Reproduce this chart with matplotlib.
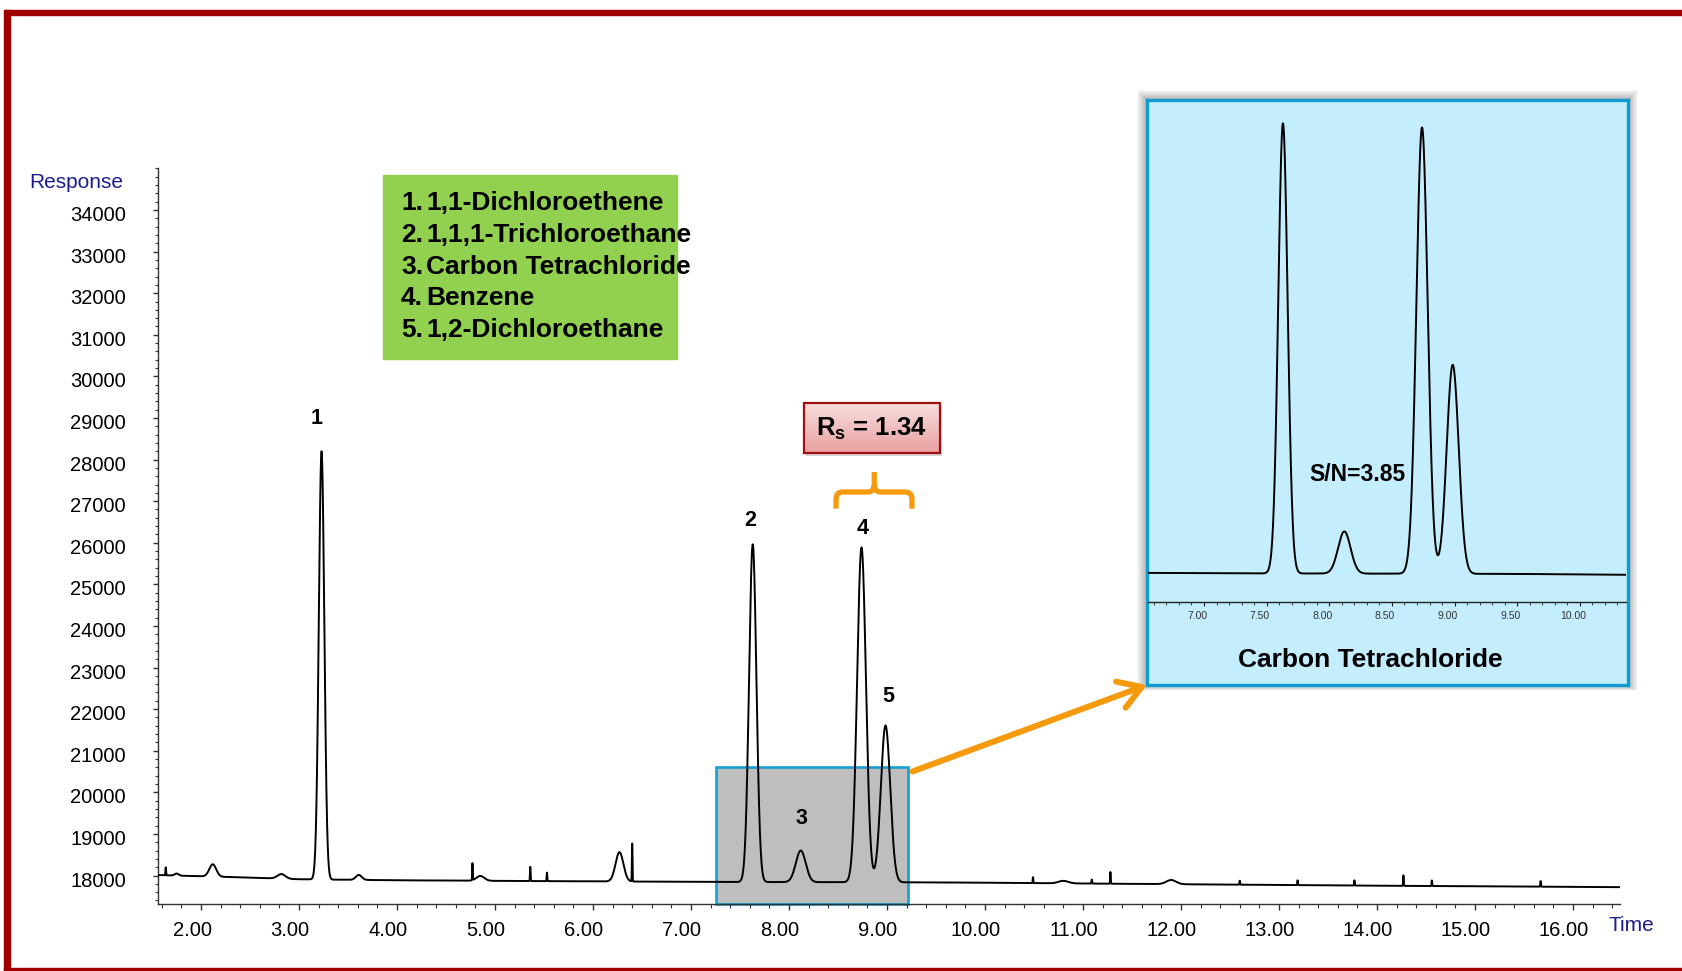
import numpy as np
import matplotlib.pyplot as plt
from matplotlib.patches import Rectangle, ConnectionPatch, PathPatch
from matplotlib.path import Path
from matplotlib.ticker import FixedLocator, MultipleLocator, FormatStrFormatter
from matplotlib.transforms import ScaledTranslation

plt.rcParams['font.family'] = ['Liberation Sans', 'DejaVu Sans']
plt.rcParams['mathtext.fontset'] = 'custom'
plt.rcParams['mathtext.bf'] = 'Liberation Sans:bold'
plt.rcParams['mathtext.rm'] = 'Liberation Sans'
plt.rcParams['mathtext.it'] = 'Liberation Sans:italic'

# --- data ---
compounds = ["1,1-Dichloroethene", "1,1,1-Trichloroethane", "Carbon Tetrachloride",
             "Benzene", "1,2-Dichloroethane"]
peak_rt = [3.23, 7.63, 8.12, 8.74, 8.985]          # min
peak_height = [10300, 8120, 760, 8050, 3770]       # above baseline
peak_sigma = [0.028, 0.0375, 0.05, 0.045, 0.048]
label_rt = [3.18, 7.60, 8.13, 8.75, 9.01]
label_resp = [28980, 26540, 19380, 26350, 22300]

minor_rt = [1.75, 2.12, 2.82, 3.61, 4.85, 6.27, 10.8, 11.9]
minor_height = [50, 296, 110, 120, 115, 705, 60, 100]
minor_sigma = [0.02, 0.035, 0.04, 0.03, 0.04, 0.04, 0.05, 0.05]

spike_rt = [1.64, 4.77, 5.36, 5.53, 6.40, 10.49, 11.09, 11.28, 12.60, 13.19, 13.77, 14.27, 14.56, 15.67]
spike_height = [200, 430, 360, 215, 960, 150, 100, 295, 100, 120, 130, 265, 140, 140]

base_rt = [1.56, 2.5, 3.0, 4.0, 5.5, 7.3, 9.5, 12.0, 14.0, 16.48]
base_resp = [18010, 17950, 17910, 17885, 17865, 17845, 17835, 17790, 17755, 17720]

rs_value = 1.34
sn_value = 3.85
zoom_window = (7.255, 9.214, 20608)

W, H = 1683, 971
ORANGE = '#F59A0C'
NAVY = '#1C1C8E'


def fx(x):
    return x / W


def fy(y):
    return 1 - y / H


# build trace
t = np.arange(1.561, 16.481, 0.002)
resp = np.interp(t, base_rt, base_resp)
for rt, h, s in zip(peak_rt, peak_height, peak_sigma):
    resp += h * np.exp(-0.5 * ((t - rt) / s) ** 2)
for rt, h, s in zip(minor_rt, minor_height, minor_sigma):
    resp += h * np.exp(-0.5 * ((t - rt) / s) ** 2)
for rt, h in zip(spike_rt, spike_height):
    resp += h * np.exp(-0.5 * ((t - rt) / 0.003) ** 2)

fig = plt.figure(figsize=(W / 100, H / 100), dpi=100)

# red slide frame
frame_c = '#A00000'
fig.patches.append(Rectangle((fx(5), fy(15)), 1 - fx(5), 5 / H, transform=fig.transFigure, color=frame_c))
fig.patches.append(Rectangle((fx(4), 0), 6 / W, fy(10), transform=fig.transFigure, color=frame_c))
fig.patches.append(Rectangle((fx(4), 0), 1, 3 / H, transform=fig.transFigure, color=frame_c))

# main axes
ax = fig.add_axes([fx(158), fy(904), (1620 - 158) / W, (904 - 168) / H])
ax.set_facecolor('none')
ax.plot(t, resp, color='black', lw=1.4, zorder=3)

x0, x1, ytop = zoom_window
ax.add_patch(Rectangle((x0, 17315), x1 - x0, ytop - 17315, fc='#BEBEBE', ec='#14A0D2',
                       lw=1.9, zorder=1, clip_on=False))

for i, (lx, ly) in enumerate(zip(label_rt, label_resp)):
    ax.text(lx, ly, str(i + 1), fontsize=15.5, fontweight='bold', ha='center', va='center', zorder=5)

# Rs box with gradient
rs_ext = [8.15, 9.54, 28163, 29351]
ax.add_patch(Rectangle((rs_ext[0] + 0.025, rs_ext[2] - 70), rs_ext[1] - rs_ext[0], rs_ext[3] - rs_ext[2],
                       fc='#888888', ec='none', alpha=0.35, zorder=4, clip_on=False))
grad = np.linspace(0, 1, 64).reshape(-1, 1)
c_top = np.array([248, 222, 222]) / 255
c_bot = np.array([233, 160, 160]) / 255
img = c_top[None, None, :] * (1 - grad[:, :, None]) + c_bot[None, None, :] * grad[:, :, None]
ax.imshow(img, extent=rs_ext, aspect='auto', zorder=5, clip_on=False, origin='upper')
ax.add_patch(Rectangle((rs_ext[0], rs_ext[2]), rs_ext[1] - rs_ext[0], rs_ext[3] - rs_ext[2],
                       fc='none', ec='#A01010', lw=1.6, zorder=6, clip_on=False))
ax.text((rs_ext[0] + rs_ext[1]) / 2, (rs_ext[2] + rs_ext[3]) / 2 - 30,
        r'$\mathbf{R_s}$' + f' = {rs_value:.2f}', fontsize=18.5, fontweight='bold',
        ha='center', va='center', zorder=7)

# orange brace over peaks 4/5
L, M, R = 8.48, 8.87, 9.255
y_arm, y_end, y_top = 27220, 26820, 27700
rx, ry = 0.07, 170
verts = [(L, y_end), (L, y_arm - ry), (L, y_arm), (L + rx, y_arm), (M - rx, y_arm), (M, y_arm),
         (M, y_arm + ry), (M, y_top),
         (M, y_arm + ry), (M, y_arm), (M + rx, y_arm), (R - rx, y_arm), (R, y_arm), (R, y_arm - ry),
         (R, y_end)]
codes = [Path.MOVETO, Path.LINETO, Path.CURVE3, Path.CURVE3, Path.LINETO, Path.CURVE3, Path.CURVE3,
         Path.LINETO,
         Path.MOVETO, Path.CURVE3, Path.CURVE3, Path.LINETO, Path.CURVE3, Path.CURVE3, Path.LINETO]
ax.add_patch(PathPatch(Path(verts, codes), fc='none', ec=ORANGE, lw=3.8, capstyle='butt',
                       zorder=5, clip_on=False))

ax.set_xlim(1.561, 16.48)
ax.set_ylim(17315, 35010)
for s in ['top', 'right']:
    ax.spines[s].set_visible(False)
for s in ['left', 'bottom']:
    ax.spines[s].set_color('#333333')
    ax.spines[s].set_linewidth(1.0)
ax.xaxis.set_major_locator(FixedLocator(np.arange(2, 17, 1.0)))
ax.xaxis.set_minor_locator(MultipleLocator(0.2))
ax.xaxis.set_major_formatter(FormatStrFormatter('%.2f'))
ax.yaxis.set_major_locator(FixedLocator(np.arange(18000, 34001, 1000)))
ax.yaxis.set_minor_locator(MultipleLocator(200))
ax.yaxis.set_major_formatter(FormatStrFormatter('%d'))
ax.tick_params(axis='x', which='major', direction='out', length=4.3, width=1, color='#333333',
               labelsize=14.5, pad=8)
ax.tick_params(axis='x', which='minor', direction='out', length=2.9, width=0.8, color='#333333')
ax.tick_params(axis='y', which='major', direction='out', length=3.6, width=1, color='#333333',
               labelsize=14.5, pad=19.5)
ax.tick_params(axis='y', which='minor', direction='out', length=2.2, width=0.8, color='#333333')
for tk in ax.xaxis.get_major_ticks():
    tk.label1.set_transform(tk.label1.get_transform() + ScaledTranslation(-0.09, 0, fig.dpi_scale_trans))
for tk in ax.yaxis.get_major_ticks():
    tk.label1.set_transform(tk.label1.get_transform() + ScaledTranslation(0, -0.035, fig.dpi_scale_trans))

fig.text(fx(123), fy(183), 'Response', color=NAVY, fontsize=15, ha='right', va='center')
fig.text(fx(1631), fy(925), 'Time', color=NAVY, fontsize=15, ha='center', va='center')

# compound legend box
fig.patches.append(Rectangle((fx(383), fy(359.3)), (677.3 - 383) / W, (359.3 - 175) / H,
                             transform=fig.transFigure, color='#92D050'))
for i, name in enumerate(compounds):
    yy = fy(203.3 + i * 31.7)
    fig.text(fx(401), yy, f'{i + 1}.', fontsize=19, fontweight='bold', va='center', ha='left')
    fig.text(fx(426), yy, name, fontsize=19, fontweight='bold', va='center', ha='left')

# inset box shadow
bx0, by0, bx1, by1 = 1147, 100, 1628, 685
for k in range(1, 11):
    fig.patches.append(Rectangle((fx(bx0 - k), fy(by1 + k * 0.6)), (bx1 - bx0 + 2 * k) / W,
                                 (by1 - by0 + 1.6 * k) / H, transform=fig.transFigure,
                                 fc='black', ec='none', alpha=0.03, zorder=1.5))

axbox = fig.add_axes([fx(bx0), fy(by1), (bx1 - bx0) / W, (by1 - by0) / H])
axbox.set_zorder(2)
axbox.set_facecolor('#C4EEFD')
axbox.set_xticks([])
axbox.set_yticks([])
for s in axbox.spines.values():
    s.set_color('#0E9CD0')
    s.set_linewidth(2.4)
axbox.text(0.465, 0.043, compounds[2], fontsize=19, fontweight='bold', ha='center', va='center',
           transform=axbox.transAxes)

axin = fig.add_axes([fx(1148), fy(602.3), (1626 - 1148) / W, (602.3 - 102) / H])
axin.set_zorder(3)
axin.set_facecolor('none')
axin.plot(t, resp, color='black', lw=1.4)
axin.set_xlim(6.553, 10.368)
axin.set_ylim(17323, 26347)
for s in ['top', 'right', 'left']:
    axin.spines[s].set_visible(False)
axin.spines['bottom'].set_color('#222222')
axin.spines['bottom'].set_linewidth(1.0)
axin.set_yticks([])
axin.xaxis.set_major_locator(FixedLocator(np.arange(7.0, 10.01, 0.5)))
axin.xaxis.set_minor_locator(MultipleLocator(0.1))
axin.xaxis.set_major_formatter(FormatStrFormatter('%.2f'))
axin.tick_params(axis='x', which='major', direction='out', length=3, width=0.8, color='#222222',
                 labelsize=7.5, labelcolor='#333333', pad=3.5)
axin.tick_params(axis='x', which='minor', direction='out', length=2, width=0.6, color='#222222')
for tk in axin.xaxis.get_major_ticks():
    tk.label1.set_transform(tk.label1.get_transform() + ScaledTranslation(-0.07, 0, fig.dpi_scale_trans))
axin.text(8.227, 19622, f'S/N={sn_value:.2f}', fontsize=16.5, fontweight='bold', ha='center', va='center')

# arrow from zoom window to inset
con = ConnectionPatch(xyA=(9.26, 20500), coordsA=ax.transData, xyB=(0, 0), coordsB=axbox.transAxes,
                      arrowstyle='->,head_length=1.6,head_width=1.0', color=ORANGE, lw=4.3,
                      shrinkA=0, shrinkB=0, mutation_scale=10, zorder=4)
fig.add_artist(con)

fig.savefig('out.png', dpi=100)
